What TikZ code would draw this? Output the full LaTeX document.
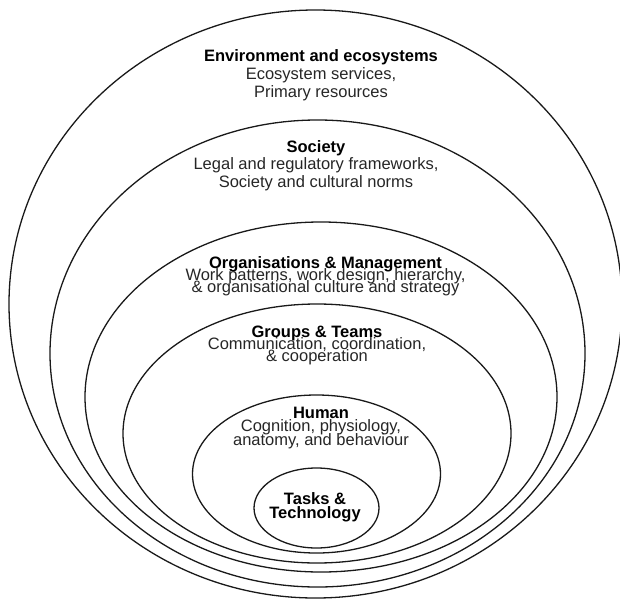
\documentclass[tikz,border=0pt]{standalone}
\usepackage{fontspec}
\setmainfont{Liberation Sans}
\begin{document}
\begin{tikzpicture}[x=1pt,y=-1pt,
  ring/.style={draw=black!90, line width=1.3pt},
  ttl/.style={font=\fontsize{16.5}{18}\selectfont\bfseries, anchor=base, inner sep=0pt, text=black},
  txt/.style={font=\fontsize{16.5}{18}\selectfont, anchor=base, inner sep=0pt, text=black!85}]
\useasboundingbox (0,0) rectangle (620,602);
% nested rings
\draw[ring] (315.5,304) ellipse [x radius=306.5pt, y radius=294pt];
\draw[ring] (317.5,353.5) ellipse [x radius=267.5pt, y radius=233.5pt];
\draw[ring] (321,397) ellipse [x radius=236pt, y radius=175pt];
\draw[ring] (317,433.5) ellipse [x radius=194pt, y radius=129.5pt];
\draw[ring] (316.5,474) ellipse [x radius=124pt, y radius=79pt];
\draw[ring] (316.5,508) ellipse [x radius=62.5pt, y radius=40pt];
% Environment
\node[ttl] (envT) at (321,61) {Environment and ecosystems};
\node[txt] (envA) at (321,79) {Ecosystem services,};
\node[txt] (envB) at (321,97) {Primary resources};
% Society
\node[ttl] (socT) at (316,152) {Society};
\node[txt] (socA) at (316,169) {Legal and regulatory frameworks,};
\node[txt] (socB) at (316,187) {Society and cultural norms};
% Organisations
\node[ttl] (orgT) at (325.5,268) {Organisations \& Management};
\node[txt] (orgA) at (325.5,280) {Work patterns, work design, hierarchy,};
\node[txt] (orgB) at (325.5,292) {\& organisational culture and strategy};
% Groups
\node[ttl] (grpT) at (317,337) {Groups \& Teams};
\node[txt] (grpA) at (317,349) {Communication, coordination,};
\node[txt] (grpB) at (317,361) {\& cooperation};
% Human
\node[ttl] (humT) at (321,418) {Human};
\node[txt] (humA) at (321,431) {Cognition, physiology,};
\node[txt] (humB) at (321,445) {anatomy, and behaviour};
% Tasks
\node[ttl] (tskA) at (315,504) {Tasks \&};
\node[ttl] (tskB) at (315,518) {Technology};
\end{tikzpicture}
\end{document}
